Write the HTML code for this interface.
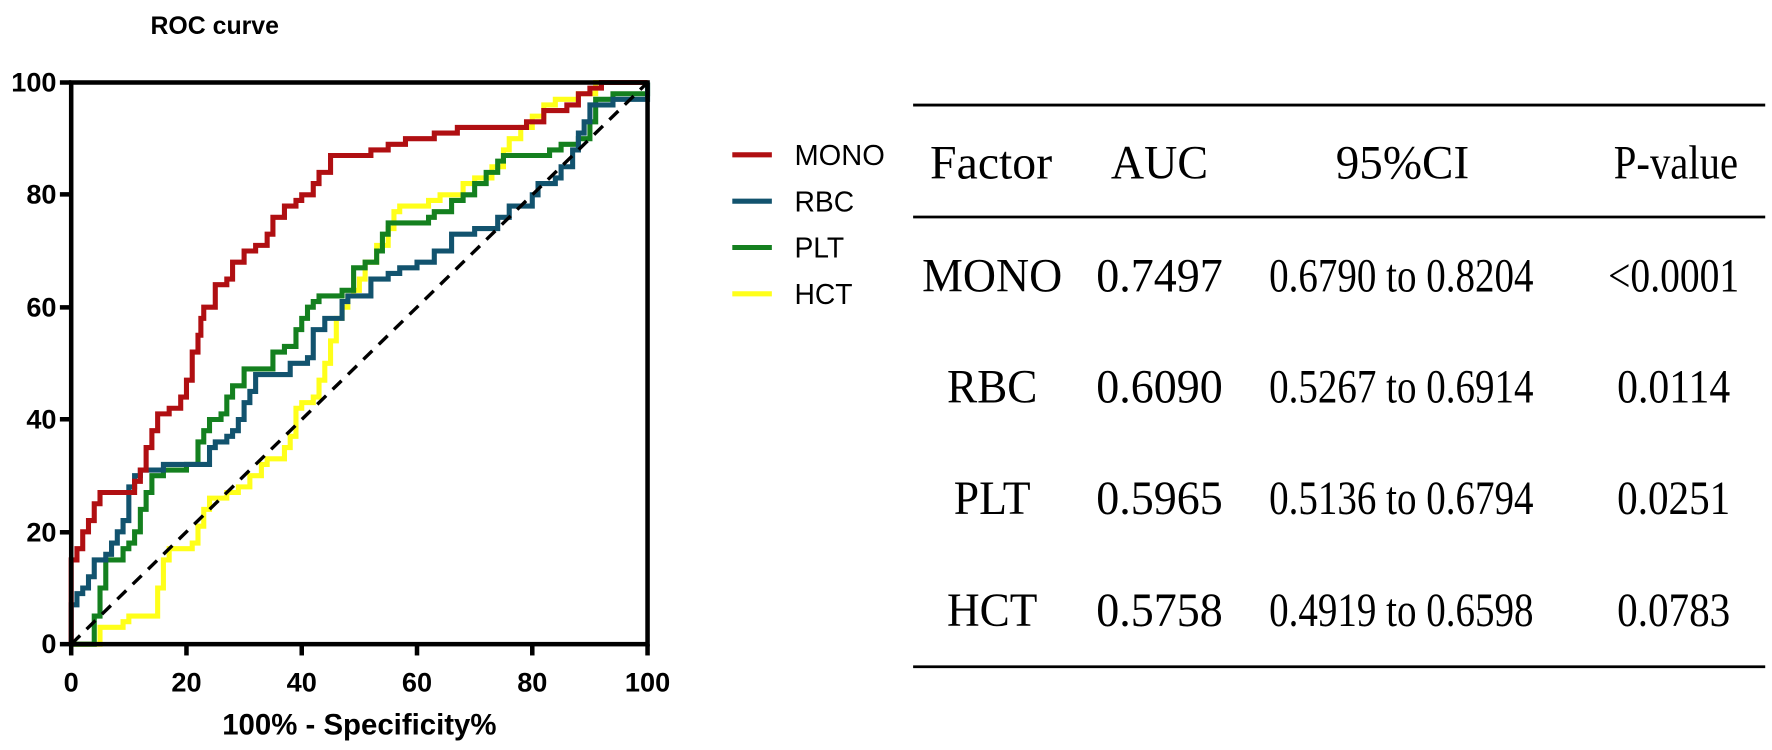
<!DOCTYPE html>
<html><head><meta charset="utf-8"><style>
html,body{margin:0;padding:0;background:#fff}
svg{display:block}
</style></head><body>
<svg id="s" width="1772" height="750" viewBox="0 0 1772 750" xmlns="http://www.w3.org/2000/svg">
<rect width="1772" height="750" fill="#fff"/>
<g transform="scale(1.1301)">
<text x="190" y="30" font-family="Liberation Sans, sans-serif" font-weight="bold" font-size="22" text-anchor="middle">ROC curve</text>
<g id="curves" fill="none" stroke-width="4.5" stroke-linejoin="miter"></g>
<line x1="63" y1="570" x2="573" y2="73" stroke="#000" stroke-width="3" stroke-dasharray="11,8"/>
<rect x="63" y="73" width="510" height="497" fill="none" stroke="#000" stroke-width="4"/>
<g stroke="#000" stroke-width="4">
<line x1="53" y1="73" x2="63" y2="73"/><line x1="53" y1="172" x2="63" y2="172"/><line x1="53" y1="272" x2="63" y2="272"/><line x1="53" y1="371" x2="63" y2="371"/><line x1="53" y1="471" x2="63" y2="471"/><line x1="53" y1="570" x2="63" y2="570"/>
<line x1="63" y1="570" x2="63" y2="580"/><line x1="165" y1="570" x2="165" y2="580"/><line x1="267" y1="570" x2="267" y2="580"/><line x1="369" y1="570" x2="369" y2="580"/><line x1="471" y1="570" x2="471" y2="580"/><line x1="573" y1="570" x2="573" y2="580"/>
</g>
<g font-family="Liberation Sans, sans-serif" font-weight="bold" font-size="24" text-anchor="end">
<text x="50" y="81">100</text><text x="50" y="180">80</text><text x="50" y="280">60</text><text x="50" y="379">40</text><text x="50" y="479">20</text><text x="50" y="578">0</text>
</g>
<g font-family="Liberation Sans, sans-serif" font-weight="bold" font-size="24" text-anchor="middle">
<text x="63" y="612">0</text><text x="165" y="612">20</text><text x="267" y="612">40</text><text x="369" y="612">60</text><text x="471" y="612">80</text><text x="573" y="612">100</text>
</g>
<text x="318" y="650" font-family="Liberation Sans, sans-serif" font-weight="bold" font-size="26" text-anchor="middle">100% - Specificity%</text>
<g stroke-width="4.5">
<line x1="648" y1="137" x2="683" y2="137" stroke="#b00f12"/>
<line x1="648" y1="178" x2="683" y2="178" stroke="#12536e"/>
<line x1="648" y1="219" x2="683" y2="219" stroke="#14801f"/>
<line x1="648" y1="260" x2="683" y2="260" stroke="#ffff1a"/>
</g>
<g font-family="Liberation Sans, sans-serif" font-size="25">
<text x="703" y="146" textLength="80" lengthAdjust="spacingAndGlyphs">MONO</text><text x="703" y="187">RBC</text><text x="703" y="228">PLT</text><text x="703" y="269">HCT</text>
</g>
<g stroke="#000" stroke-width="2.5">
<line x1="808" y1="93" x2="1562" y2="93"/><line x1="808" y1="192" x2="1562" y2="192"/><line x1="808" y1="590" x2="1562" y2="590"/>
</g>
<g font-family="Liberation Serif, serif" font-size="42" text-anchor="middle">
<text x="877" y="158" textLength="108" lengthAdjust="spacingAndGlyphs">Factor</text>
<text x="1026" y="158" textLength="86" lengthAdjust="spacingAndGlyphs">AUC</text>
<text x="1241" y="158" textLength="118" lengthAdjust="spacingAndGlyphs">95%CI</text>
<text x="1483" y="158" textLength="110" lengthAdjust="spacingAndGlyphs">P-value</text>

<text x="878" y="258" textLength="124" lengthAdjust="spacingAndGlyphs">MONO</text>
<text x="1026" y="258" textLength="112" lengthAdjust="spacingAndGlyphs">0.7497</text>
<text x="1240" y="258" textLength="234" lengthAdjust="spacingAndGlyphs">0.6790 to 0.8204</text>
<text x="1481" y="258" textLength="116" lengthAdjust="spacingAndGlyphs">&lt;0.0001</text>

<text x="878" y="356" textLength="80" lengthAdjust="spacingAndGlyphs">RBC</text>
<text x="1026" y="356" textLength="112" lengthAdjust="spacingAndGlyphs">0.6090</text>
<text x="1240" y="356" textLength="234" lengthAdjust="spacingAndGlyphs">0.5267 to 0.6914</text>
<text x="1481" y="356" textLength="100" lengthAdjust="spacingAndGlyphs">0.0114</text>

<text x="878" y="455" textLength="68" lengthAdjust="spacingAndGlyphs">PLT</text>
<text x="1026" y="455" textLength="112" lengthAdjust="spacingAndGlyphs">0.5965</text>
<text x="1240" y="455" textLength="234" lengthAdjust="spacingAndGlyphs">0.5136 to 0.6794</text>
<text x="1481" y="455" textLength="100" lengthAdjust="spacingAndGlyphs">0.0251</text>

<text x="878" y="554" textLength="80" lengthAdjust="spacingAndGlyphs">HCT</text>
<text x="1026" y="554" textLength="112" lengthAdjust="spacingAndGlyphs">0.5758</text>
<text x="1240" y="554" textLength="234" lengthAdjust="spacingAndGlyphs">0.4919 to 0.6598</text>
<text x="1481" y="554" textLength="100" lengthAdjust="spacingAndGlyphs">0.0783</text>
</g>
</g>
</svg>
<script>
var X=function(v){return 63+v*5.1},Y=function(v){return 570-v*4.97};
var S={
"#ffff1a":[[0,0],[4,0],[5,3],[9,4],[10,5],[14,5],[15,10],[16,15],[17,17],[21,18],[22,21],[23,24],[24,26],[27,27],[29,28],[31,30],[33,32],[34,33],[37,35],[38,37],[39,42],[40,43],[42,44],[43,47],[44,50],[45,54],[46,58],[47,60],[48,62],[49,63],[50,65],[51,68],[53,71],[55,74],[56,77],[57,78],[62,79],[64,80],[67,80],[68,82],[70,83],[73,85],[75,88],[76,90],[78,92],[80,94],[82,96],[84,97],[88,98],[91,100],[100,100]],
"#14801f":[[0,0],[4,0],[4,5],[5,10],[6,15],[9,17],[10,18],[11,20],[12,24],[13,27],[14,30],[16,31],[20,32],[22,36],[23,38],[24,40],[26,41],[27,44],[28,46],[30,49],[35,52],[37,53],[39,56],[40,58],[41,60],[42,61],[43,62],[46,62],[47,63],[49,67],[51,68],[53,70],[54,73],[55,75],[62,76],[63,77],[66,79],[68,80],[70,82],[72,84],[74,86],[75,87],[83,88],[85,89],[88,90],[90,93],[91,97],[94,98],[100,100]],
"#12536e":[[0,0],[0,7],[1,9],[2,10],[3,12],[4,15],[6,16],[7,18],[8,20],[9,22],[10,28],[11,30],[12,31],[16,32],[23,32],[24,35],[25,36],[27,37],[28,38],[29,40],[30,43],[31,45],[32,48],[36,48],[38,50],[41,51],[42,56],[44,58],[46,58],[47,61],[48,62],[52,65],[55,66],[57,67],[60,68],[63,70],[66,73],[70,74],[74,76],[76,78],[80,80],[81,82],[84,83],[85,85],[87,88],[88,91],[89,93],[90,96],[94,97],[100,100]],
"#b00f12":[[0,0],[0,15],[1,17],[2,20],[3,22],[4,25],[5,27],[11,27],[11,29],[12,31],[13,35],[14,38],[15,41],[17,42],[19,44],[20,47],[21,52],[22,55],[22.5,58],[23,60],[25,64],[27,65],[28,68],[30,70],[32,71],[34,73],[35,76],[37,78],[39,79],[40,80],[42,82],[43,84],[45,87],[47,87],[52,88],[55,89],[58,90],[63,91],[67,92],[79,93],[82,95],[86,96],[88,98],[90,99],[92,100],[100,100]]
};
var g=document.getElementById("curves"),ns="http://www.w3.org/2000/svg";
for(var c in S){var p=S[c],d="M"+X(p[0][0])+" "+Y(p[0][1]);
for(var i=1;i<p.length;i++){d+=" H"+X(p[i][0])+" V"+Y(p[i][1]);}
var e=document.createElementNS(ns,"path");e.setAttribute("d",d);e.setAttribute("stroke",c);g.appendChild(e);}
</script>
</body></html>
